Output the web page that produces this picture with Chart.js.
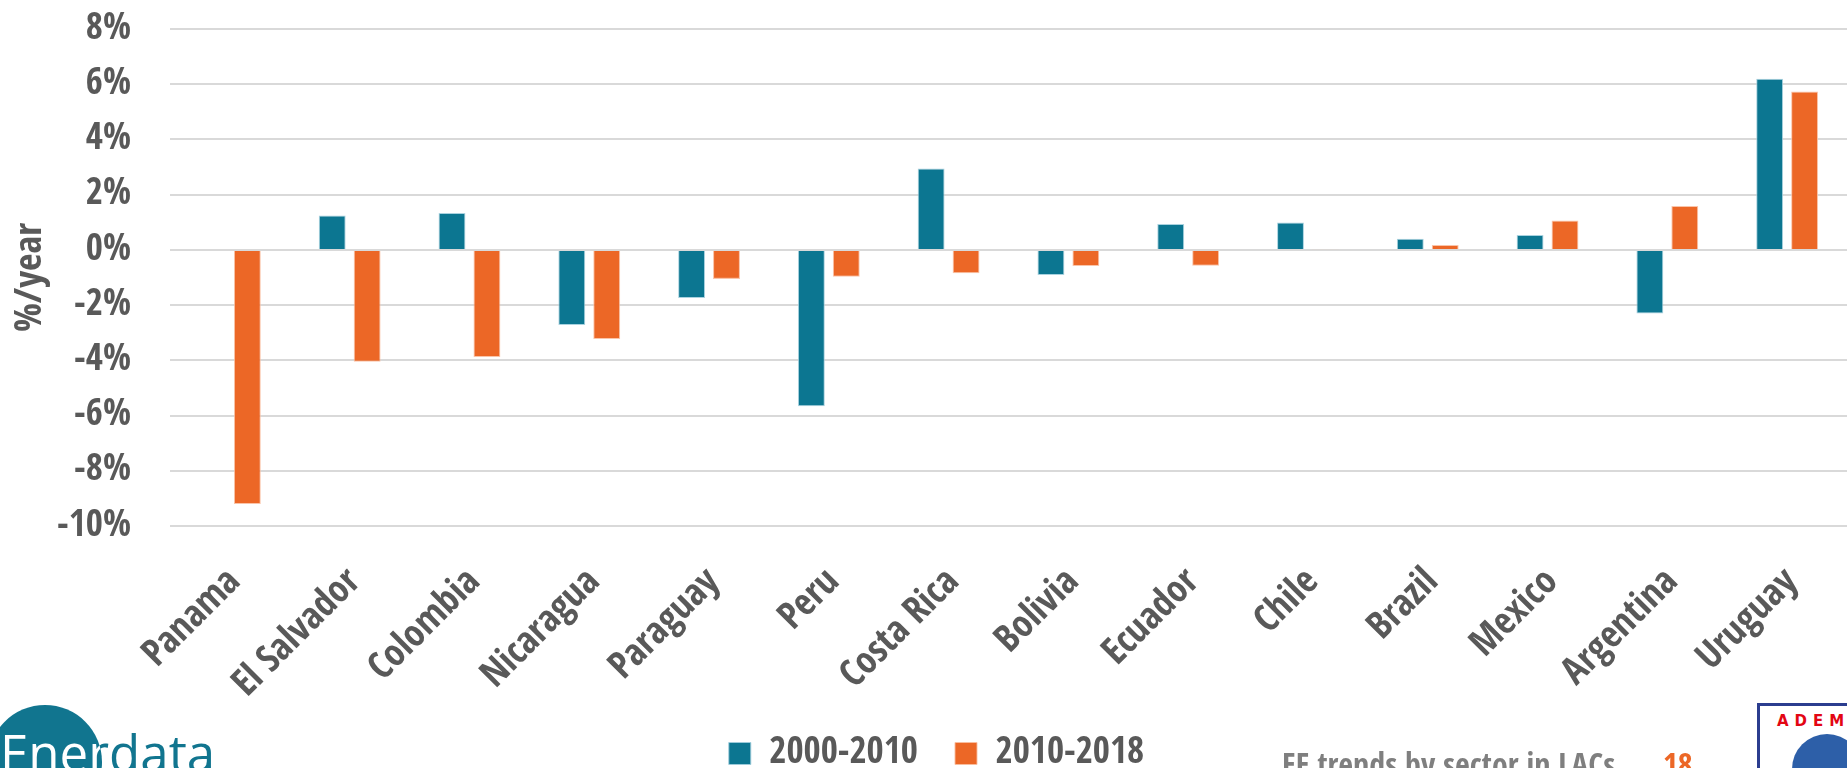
<!DOCTYPE html>
<html>
<head>
<meta charset="utf-8">
<script src="https://cdn.jsdelivr.net/npm/chart.js@4"></script>
<style>
html,body{margin:0;padding:0;background:#fff;overflow:hidden;}
#wrap{position:relative;width:1847px;height:768px;overflow:hidden;}
#chart{position:absolute;left:0;top:0;}
.footer{position:absolute;left:1282px;top:748px;font-family:'Open Sans Condensed','DejaVu Sans Condensed',sans-serif;font-weight:bold;font-size:32px;color:#7f7f7f;white-space:nowrap;line-height:1;}
.page{position:absolute;left:1663px;top:748px;font-family:'Open Sans Condensed','DejaVu Sans Condensed',sans-serif;font-weight:bold;font-size:32px;color:#ec6726;line-height:1;}
.logoText{position:absolute;left:0;top:727px;font-family:'Open Sans',sans-serif;font-size:51px;line-height:1;color:#11758f;white-space:nowrap;}
.logoCircle{position:absolute;left:-12px;top:705px;width:114px;height:114px;border-radius:50%;background:#11758f;overflow:hidden;}
.logoCircle .inner{position:absolute;left:12px;top:22px;font-family:'Open Sans',sans-serif;font-size:51px;line-height:1;color:#fff;white-space:nowrap;}
.ademe{position:absolute;left:1757px;top:703px;width:120px;height:100px;border:3px solid #2b3d8f;box-sizing:border-box;background:#fff;}
.ademe .t{position:absolute;left:17px;top:6px;font-family:'DejaVu Sans',sans-serif;font-weight:bold;font-size:15px;letter-spacing:6px;color:#e30613;}
.ademe .g{position:absolute;left:32px;top:28px;width:70px;height:70px;border-radius:50%;background:#2d5fa8;}
</style>
</head>
<body>
<div id="wrap">
<canvas id="chart" width="1847" height="768"></canvas>
<div class="logoText">Enerdata</div>
<div class="logoCircle"><div class="inner">Enerdata</div></div>
<div class="footer">EE trends by sector in LACs</div>
<div class="page">18</div>
<div class="ademe"><div class="t">ADEME</div><div class="g"></div></div>
</div>
<script>
const countries = ['Panama','El Salvador','Colombia','Nicaragua','Paraguay','Peru','Costa Rica','Bolivia','Ecuador','Chile','Brazil','Mexico','Argentina','Uruguay'];
const series2000_2010 = [0, 1.25, 1.34, -2.72, -1.74, -5.66, 2.95, -0.91, 0.94, 0.99, 0.40, 0.54, -2.30, 6.20];
const series2010_2018 = [-9.20, -4.05, -3.88, -3.23, -1.05, -0.97, -0.85, -0.58, -0.57, 0.02, 0.18, 1.06, 1.59, 5.74];
const seriesNames = ['2000-2010','2010-2018'];
const yMin = -10, yMax = 8, yStep = 2;
const yTitle = '%/year';

const FONT = "'Open Sans Condensed','DejaVu Sans Condensed',sans-serif";
const GRAY = '#595959';
const BLUE = '#0c7691';
const ORANGE = '#ec6726';

const PLOT_BOTTOM = 526;

const layoutTweak = {
  id: 'layoutTweak',
  afterLayout(chart) {
    const lg = chart.legend;
    if (lg) { lg.left += 8; lg.right += 8; lg.top += 14; lg.bottom += 14; }
    const xs = chart.scales.x;
    if (xs) { xs.bottom = chart.height; }
  }
};

new Chart(document.getElementById('chart'), {
  type: 'bar',
  data: {
    labels: countries,
    datasets: [
      {label: seriesNames[0], data: series2000_2010, backgroundColor: BLUE, borderColor: 'rgba(160,205,220,0.9)', borderWidth: 1},
      {label: seriesNames[1], data: series2010_2018, backgroundColor: ORANGE, borderColor: 'rgba(250,190,160,0.9)', borderWidth: 1}
    ]
  },
  options: {
    responsive: false,
    animation: false,
    devicePixelRatio: 1,
    categoryPercentage: 0.583,
    barPercentage: 0.77,
    layout: {padding: {top: 29, right: -10, left: 0, bottom: 0}},
    plugins: {
      tooltip: {enabled: false},
      legend: {
        position: 'bottom',
        labels: {
          font: {family: FONT, weight: 'bold', size: 37},
          color: GRAY,
          boxWidth: 22,
          boxHeight: 22,
          padding: 37
        }
      }
    },
    scales: {
      x: {
        grid: {display: false, drawTicks: false},
        border: {display: false},
        ticks: {
          autoSkip: false,
          maxRotation: 45,
          minRotation: 45,
          padding: 34,
          labelOffset: 5,
          color: GRAY,
          font: {family: FONT, weight: 'bold', size: 38}
        },
        afterFit(s) {
          const lg = s.chart.legend ? s.chart.legend.height : 60;
          s.height = 768 - lg - PLOT_BOTTOM;
          s.paddingLeft = 0; s.paddingRight = 0;
        }
      },
      y: {
        min: yMin,
        max: yMax,
        grid: {color: '#d9d9d9', lineWidth: 2, drawTicks: false},
        border: {display: false},
        ticks: {
          stepSize: yStep,
          padding: 39,
          color: GRAY,
          font: {family: FONT, weight: 'bold', size: 37},
          callback: v => v + '%'
        },
        title: {
          display: true,
          text: yTitle,
          color: GRAY,
          font: {family: FONT, weight: 'bold', size: 38},
          padding: {top: 8, bottom: 0}
        },
        afterFit(s) { s.width = 170; s.paddingTop = 0; s.paddingBottom = 0; }
      }
    }
  },
  plugins: [layoutTweak]
});
</script>
</body>
</html>
